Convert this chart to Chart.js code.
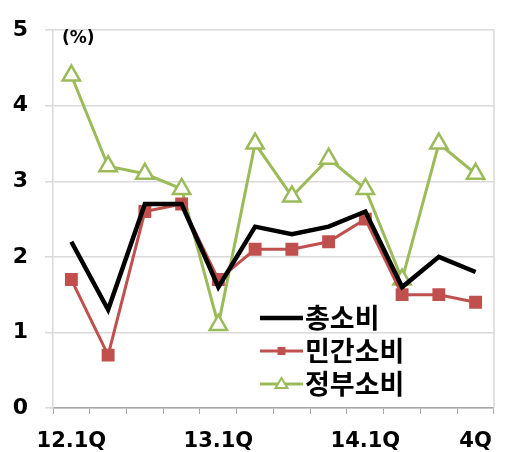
<!DOCTYPE html>
<html>
<head>
<meta charset="utf-8">
<script src="https://cdn.jsdelivr.net/npm/chart.js@4.4.1/dist/chart.umd.min.js"></script>
<style>
html,body{margin:0;padding:0;background:#fff;}
#wrap{width:507px;height:452px;}
</style>
</head>
<body>
<div id="wrap"><canvas id="consChart" width="507" height="452"></canvas></div>
<script>
// 분기별 소비 증가율 (%)
const categories = ['12.1Q','12.2Q','12.3Q','12.4Q','13.1Q','13.2Q','13.3Q','13.4Q','14.1Q','14.2Q','14.3Q','14.4Q'];
const tickLabels = ['12.1Q','','','','13.1Q','','','','14.1Q','','','4Q'];
const totalCons = [2.2, 1.3, 2.7, 2.7, 1.6, 2.4, 2.3, 2.4, 2.6, 1.6, 2.0, 1.8];
const privateCons = [1.7, 0.7, 2.6, 2.7, 1.7, 2.1, 2.1, 2.2, 2.5, 1.5, 1.5, 1.4];
const govCons = [4.4, 3.2, 3.1, 2.9, 1.1, 3.5, 2.8, 3.3, 2.9, 1.7, 3.5, 3.1];
const seriesNames = ['총소비','민간소비','정부소비'];

const numFont = {family:'"DejaVu Sans"', size:21, weight:'bold'};

// 범례와 단위 표시
const extras = {
  id:'extras',
  afterDraw(chart){
    const ctx = chart.ctx;
    const a = chart.chartArea;
    ctx.save();
    // 오른쪽 테두리
    ctx.strokeStyle = '#d9d9d9';
    ctx.lineWidth = 1.5;
    ctx.beginPath();
    ctx.moveTo(a.right, a.top);
    ctx.lineTo(a.right, a.bottom);
    ctx.stroke();

    ctx.fillStyle = '#000';
    ctx.font = 'bold 17px "DejaVu Sans"';
    ctx.textBaseline = 'middle';
    ctx.fillText('(%)', a.left + 9, 39);

    const x0 = 260, x1 = 303;
    let y = 318;
    chart.data.datasets.forEach((ds, i) => {
      ctx.strokeStyle = ds.borderColor;
      ctx.lineWidth = ds.borderWidth;
      ctx.beginPath();
      ctx.moveTo(x0, y);
      ctx.lineTo(x1, y);
      ctx.stroke();
      const cx = (x0 + x1) / 2;
      if (ds.pointStyle === 'rect') {
        ctx.fillStyle = ds.pointBackgroundColor;
        ctx.fillRect(cx - 4, y - 4, 8, 8);
      } else if (ds.pointStyle === 'triangle') {
        ctx.fillStyle = '#fff';
        ctx.lineWidth = 2;
        ctx.beginPath();
        ctx.moveTo(cx, y - 6);
        ctx.lineTo(cx + 6, y + 4);
        ctx.lineTo(cx - 6, y + 4);
        ctx.closePath();
        ctx.fill();
        ctx.stroke();
      }
      ctx.fillStyle = '#000';
      ctx.font = 'bold 27px "Noto Sans CJK KR"';
      ctx.textBaseline = 'middle';
      ctx.fillText(ds.label, x1 + 2, y);
      y += 33;
    });
    ctx.restore();
  }
};

new Chart(document.getElementById('consChart'), {
  type:'line',
  data:{
    labels:categories,
    datasets:[
      {label:seriesNames[0], data:totalCons, borderColor:'#000000', borderWidth:4.5,
       pointRadius:0, pointStyle:'circle', tension:0},
      {label:seriesNames[1], data:privateCons, borderColor:'#c0504d', borderWidth:3,
       pointStyle:'rect', pointRadius:7, pointBackgroundColor:'#c0504d', pointBorderColor:'#c0504d', tension:0},
      {label:seriesNames[2], data:govCons, borderColor:'#9bbb59', borderWidth:3,
       pointStyle:'triangle', pointRadius:10, pointBackgroundColor:'#ffffff', pointBorderColor:'#9bbb59',
       pointBorderWidth:2.5, tension:0}
    ]
  },
  options:{
    responsive:false,
    animation:false,
    layout:{autoPadding:false, padding:{top:22, right:4, left:0, bottom:0}},
    plugins:{legend:{display:false}, tooltip:{enabled:false}},
    scales:{
      x:{
        offset:true,
        grid:{offset:true, drawOnChartArea:false, tickLength:6, color:'#a6a6a6'},
        border:{color:'#a6a6a6', width:1.5},
        ticks:{autoSkip:false, maxRotation:0, padding:15, color:'#000', font:numFont,
          callback:(v, i) => tickLabels[i]},
        afterFit:s => { s.height = 44; }
      },
      y:{
        min:0, max:5,
        grid:{color:'#d9d9d9', lineWidth:1.5, tickLength:8},
        border:{color:'#d9d9d9', width:1.5},
        ticks:{stepSize:1, padding:17, color:'#000', font:{family:'"DejaVu Sans"', size:22, weight:'bold'}},
        afterFit:s => { s.width = 53; }
      }
    }
  },
  plugins:[extras]
});
</script>
</body>
</html>
